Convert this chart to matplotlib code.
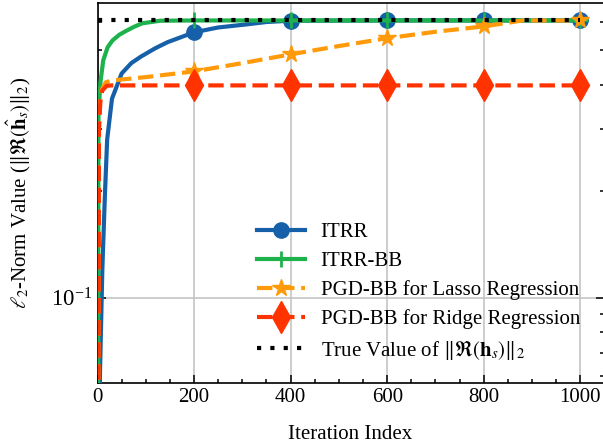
import matplotlib
matplotlib.use("Agg")
import matplotlib.pyplot as plt
from matplotlib.ticker import MultipleLocator, NullFormatter, LogLocator

plt.rcParams["font.family"] = "serif"
plt.rcParams["font.serif"] = ["Liberation Serif", "DejaVu Serif"]
plt.rcParams["mathtext.fontset"] = "stix"

# ---------- data ----------
MARK_ITERS = [200, 400, 600, 800, 1000]

itrr_iter = [0, 5, 10, 15, 20, 30, 50, 70, 90, 120, 145, 200, 250, 310, 350, 400, 600, 800, 1000]
itrr_val = [0.002, 0.06, 0.12, 0.19, 0.28, 0.365, 0.43, 0.46, 0.48, 0.507, 0.527, 0.562,
            0.58, 0.592, 0.601, 0.606, 0.607, 0.607, 0.607]

itrrbb_iter = [0, 2, 6, 12, 21, 31, 45, 58, 75, 93, 130, 200, 400, 600, 800, 1000]
itrrbb_val = [0.002, 0.33, 0.406, 0.469, 0.51, 0.533, 0.553, 0.566, 0.582, 0.596, 0.606,
              0.607, 0.607, 0.607, 0.607, 0.607]

lasso_iter = [0, 3, 6, 10, 17, 30, 100, 200, 300, 400, 500, 600, 700, 800, 850, 880, 1000]
lasso_val = [0.002, 0.3, 0.37, 0.39, 0.406, 0.411, 0.42, 0.436, 0.46, 0.487, 0.514, 0.541,
             0.564, 0.584, 0.598, 0.607, 0.607]

ridge_iter = [0, 3, 6, 10, 19, 30, 200, 400, 600, 800, 1000]
ridge_val = [0.002, 0.3, 0.361, 0.385, 0.397, 0.398, 0.398, 0.398, 0.398, 0.398, 0.398]

true_iter = [0, 1000]
true_val = [0.607, 0.607]

labels = ["ITRR", "ITRR-BB", "PGD-BB for Lasso Regression", "PGD-BB for Ridge Regression",
          r"True Value of $\|\Re(\mathbf{h}_s)\|_2$"]


def marks(iters):
    return [iters.index(m) for m in MARK_ITERS]


fig = plt.figure(figsize=(6.03, 4.45), dpi=100)
ax = fig.add_axes([97.5 / 603, 62 / 445, 506 / 603, 380 / 445])

ax.plot(itrr_iter, itrr_val, color="#1560A8", lw=3, marker="o", ms=11,
        markevery=marks(itrr_iter), label=labels[0], zorder=3)
ax.plot(itrrbb_iter, itrrbb_val, color="#1DB24B", lw=3, marker="+", ms=12, mew=2,
        markevery=marks(itrrbb_iter), label=labels[1], zorder=3)
ax.plot(lasso_iter, lasso_val, color="#FF9A0A", lw=3, ls="--", marker="*", ms=13,
        markevery=marks(lasso_iter), label=labels[2], zorder=3)
ax.plot(ridge_iter, ridge_val, color="#FF3300", lw=3, ls="--", marker="d", ms=16,
        markevery=marks(ridge_iter), label=labels[3], zorder=3)
ax.plot(true_iter, true_val, color="black", lw=3, ls=(0, (1, 2.2)),
        label=labels[4], zorder=3)

ax.set_yscale("log")
ax.set_xlim(0, 1048)
ax.set_ylim(0.0575, 0.68)

ax.xaxis.set_major_locator(MultipleLocator(200))
ax.xaxis.set_minor_locator(MultipleLocator(50))
ax.yaxis.set_major_locator(LogLocator(base=10))
ax.yaxis.set_minor_locator(LogLocator(base=10, subs=range(2, 10)))
ax.yaxis.set_minor_formatter(NullFormatter())

ax.grid(True, which="major", color="#c0c0c0", lw=1.1, zorder=0)
ax.set_axisbelow(True)

ax.tick_params(which="both", direction="in", right=True, labelsize=15, width=1.1)
ax.tick_params(axis="y", labelsize=16.5)
ax.tick_params(which="major", length=6)
ax.tick_params(which="minor", length=3)
for s in ax.spines.values():
    s.set_linewidth(1.2)

ax.set_xlabel("Iteration Index", fontsize=15, labelpad=13)
ax.set_ylabel(r"$\ell_2$-Norm Value ($\|\Re(\hat{\mathbf{h}}_s)\|_2$)", fontsize=15)
ax.yaxis.set_label_coords(-0.128, 0.5)

ax.legend(loc="center left", bbox_to_anchor=(257 / 603, 1 - 292 / 445),
          bbox_transform=fig.transFigure, frameon=False, fontsize=15,
          borderpad=0, borderaxespad=0, handlelength=2.3, handletextpad=0.75,
          labelspacing=0.45)

fig.savefig("out.png", dpi=100)
